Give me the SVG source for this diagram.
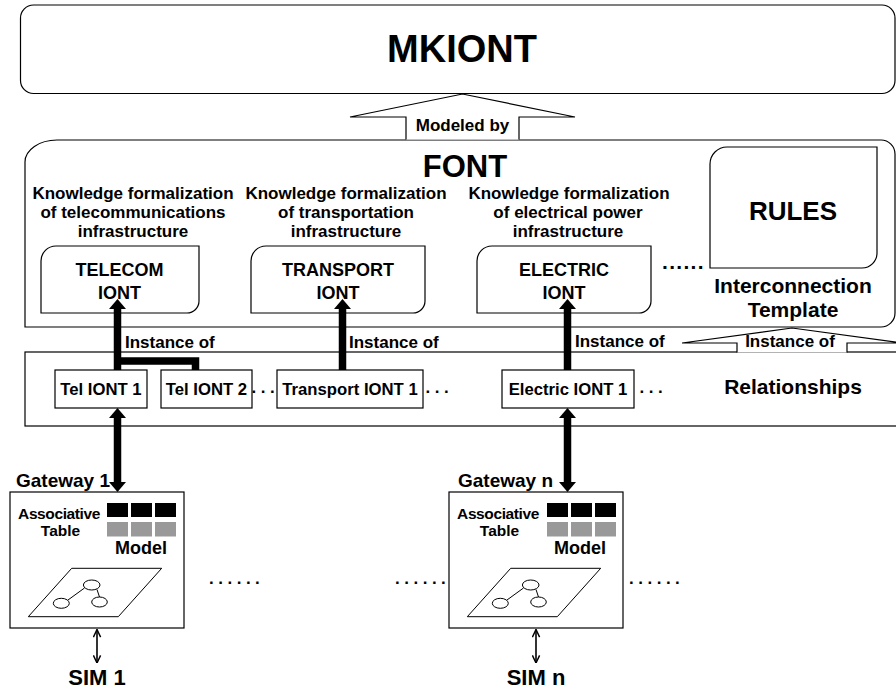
<svg xmlns="http://www.w3.org/2000/svg" width="896" height="691" viewBox="0 0 896 691">
<defs>
<style>
text{font-family:"Liberation Sans",Arial,Helvetica,sans-serif;font-weight:bold;fill:#000}
.c{text-anchor:middle}
.box{fill:#fff;stroke:#000;stroke-width:1.2}
.thin{fill:none;stroke:#000;stroke-width:1}
.thick{fill:none;stroke:#000;stroke-width:7.5;stroke-linejoin:miter}
.hollow{fill:#fff;stroke:#000;stroke-width:1.2;stroke-linejoin:miter}
.blk{fill:#000}
.gry{fill:#999}
.hdr{font-size:17px}
.iont{font-size:18px}
.inst{font-size:17px}
.small{font-size:16.7px}
.dots{font-size:17px;letter-spacing:4.5px}
</style>
<marker id="head" viewBox="0 0 10 17" refX="0" refY="8.5" markerWidth="10" markerHeight="17" markerUnits="userSpaceOnUse" orient="auto-start-reverse">
<path d="M0,0 L10,8.5 L0,17 Z" fill="#000"/>
</marker>
<marker id="chev" viewBox="0 0 10 10" refX="9.5" refY="5" markerWidth="9" markerHeight="9" markerUnits="userSpaceOnUse" orient="auto-start-reverse">
<path d="M1,1 L9.5,5 L1,9" fill="none" stroke="#000" stroke-width="1.6"/>
</marker>
</defs>
<rect width="896" height="691" fill="#fff"/>

<g id="mkiont">
<rect class="box" x="20.5" y="5" width="874.5" height="88.5" rx="13" ry="13"/>
<text class="c" x="462" y="62" font-size="38">MKIONT</text>
</g>

<g id="font">
<path class="box" d="M25,327 V162 A32,22 0 0 1 57,140 H881 A14,14 0 0 1 895,154 V313 A14,14 0 0 1 881,327 Z"/>
<text class="c" x="465" y="177" font-size="31">FONT</text>
<text class="c hdr" x="133" y="199">Knowledge formalization</text>
<text class="c hdr" x="133" y="218">of telecommunications</text>
<text class="c hdr" x="133" y="237">infrastructure</text>
<text class="c hdr" x="346" y="199">Knowledge formalization</text>
<text class="c hdr" x="346" y="218">of transportation</text>
<text class="c hdr" x="346" y="237">infrastructure</text>
<text class="c hdr" x="569" y="199">Knowledge formalization</text>
<text class="c hdr" x="568" y="218">of electrical power</text>
<text class="c hdr" x="568" y="237">infrastructure</text>
<text x="662" y="269" font-size="21" letter-spacing="1.3">......</text>
<text class="c" x="793" y="293" font-size="21">Interconnection</text>
<text class="c" x="793" y="317" font-size="21">Template</text>
</g>

<g id="telecom-iont">
<path class="box" d="M41,313 V261 A15,15 0 0 1 56,246 H199 V301 A12,12 0 0 1 187,313 Z"/>
<text class="c iont" x="119.5" y="276">TELECOM</text>
<text class="c iont" x="119.5" y="298.5">IONT</text>
</g>

<g id="transport-iont">
<path class="box" d="M251,313 V261 A15,15 0 0 1 266,246 H425 V301 A12,12 0 0 1 413,313 Z"/>
<text class="c iont" x="338" y="276">TRANSPORT</text>
<text class="c iont" x="338" y="298.5">IONT</text>
</g>

<g id="electric-iont">
<path class="box" d="M477,313 V261 A15,15 0 0 1 492,246 H651 V301 A12,12 0 0 1 639,313 Z"/>
<text class="c iont" x="564" y="276">ELECTRIC</text>
<text class="c iont" x="564" y="298.5">IONT</text>
</g>

<g id="rules">
<path class="box" d="M710,268 V164 A17,17 0 0 1 727,147 H877 V253 A15,15 0 0 1 862,268 Z"/>
<text class="c" x="793" y="220" font-size="26">RULES</text>
</g>

<g id="relationships">
<rect class="box" x="25" y="352" width="880" height="74"/>
<text class="c" x="793" y="394" font-size="21">Relationships</text>
<text class="dots" x="251.5" y="393">...</text>
<text class="dots" x="425.5" y="393">...</text>
<text class="dots" x="639.5" y="393">...</text>
</g>

<g id="tel-iont-1">
<rect class="box" x="55" y="370" width="92" height="38"/>
<text class="c small" x="101" y="395">Tel IONT 1</text>
</g>

<g id="tel-iont-2">
<rect class="box" x="161" y="370" width="91" height="38"/>
<text class="c small" x="206.5" y="395">Tel IONT 2</text>
</g>

<g id="transport-iont-1">
<rect class="box" x="277" y="370" width="146" height="38"/>
<text class="c small" x="350" y="395">Transport IONT 1</text>
</g>

<g id="electric-iont-1">
<rect class="box" x="502" y="370" width="132" height="38"/>
<text class="c small" x="568" y="395">Electric IONT 1</text>
</g>

<g id="gateway-1">
<text x="16" y="487" font-size="19">Gateway 1</text>
<rect class="box" x="10" y="492" width="174" height="136"/>
<text class="c" x="59" y="519" font-size="15.5" letter-spacing="-0.4">Associative</text>
<text class="c" x="60.5" y="535.7" font-size="15.5">Table</text>
<rect class="blk" x="107" y="503" width="21" height="14"/>
<rect class="blk" x="131" y="503" width="21" height="14"/>
<rect class="blk" x="155" y="503" width="21" height="14"/>
<rect class="gry" x="107" y="522" width="21" height="14.5"/>
<rect class="gry" x="131" y="522" width="21" height="14.5"/>
<rect class="gry" x="155" y="522" width="21" height="14.5"/>
<text class="c" x="141" y="554" font-size="18">Model</text>
<polygon class="thin" points="28.3,616.7 118.3,616.7 161.7,568.3 71.7,568.3"/>
<ellipse class="thin" cx="91.7" cy="585" rx="8.3" ry="5"/>
<ellipse class="thin" cx="61.3" cy="603.3" rx="8" ry="5"/>
<ellipse class="thin" cx="99.5" cy="602" rx="7.8" ry="5"/>
<line class="thin" x1="68" y1="600" x2="84.5" y2="588"/>
<line class="thin" x1="97" y1="589.5" x2="99.5" y2="597"/>
<text class="dots" x="209" y="584">......</text>
</g>

<g id="gateway-n">
<text x="458" y="487" font-size="19">Gateway n</text>
<rect class="box" x="449" y="492" width="174" height="136"/>
<text class="c" x="498" y="519" font-size="15.5" letter-spacing="-0.4">Associative</text>
<text class="c" x="499.5" y="535.7" font-size="15.5">Table</text>
<rect class="blk" x="547" y="503" width="21" height="14"/>
<rect class="blk" x="571" y="503" width="21" height="14"/>
<rect class="blk" x="595" y="503" width="21" height="14"/>
<rect class="gry" x="547" y="522" width="21" height="14.5"/>
<rect class="gry" x="571" y="522" width="21" height="14.5"/>
<rect class="gry" x="595" y="522" width="21" height="14.5"/>
<text class="c" x="580" y="554" font-size="18">Model</text>
<polygon class="thin" points="467.3,616.7 557.3,616.7 600.7,568.3 510.7,568.3"/>
<ellipse class="thin" cx="530.7" cy="585" rx="8.3" ry="5"/>
<ellipse class="thin" cx="500.3" cy="603.3" rx="8" ry="5"/>
<ellipse class="thin" cx="538.5" cy="602" rx="7.8" ry="5"/>
<line class="thin" x1="507" y1="600" x2="523.5" y2="588"/>
<line class="thin" x1="536" y1="589.5" x2="538.5" y2="597"/>
<text class="dots" x="395" y="584">......</text>
<text class="dots" x="629" y="584">......</text>
</g>

<g id="sim-1">
<text class="c" x="97" y="685" font-size="22">SIM 1</text>
</g>
<g id="sim-n">
<text class="c" x="536" y="685" font-size="22">SIM n</text>
</g>

<g id="connectors">
<polyline class="hollow" points="406,139.4 406,117 350,117 462.5,94 575,117 519,117 519,139.4"/>
<text class="c" x="462.5" y="131" font-size="17">Modeled by</text>

<line class="thick" x1="117.5" y1="370" x2="117.5" y2="309" marker-end="url(#head)"/>
<path class="thick" d="M117.5,361 H195.5 V370"/>
<line class="thick" x1="342.5" y1="370" x2="342.5" y2="309" marker-end="url(#head)"/>
<line class="thick" x1="567.5" y1="370" x2="567.5" y2="309" marker-end="url(#head)"/>

<text class="inst" x="125" y="347.7">Instance of</text>
<text class="inst" x="349" y="347.7">Instance of</text>
<text class="inst" x="575" y="347.3">Instance of</text>

<polyline class="hollow" points="737,352.4 737,343 682,343 792,328 902,343 847,343 847,352.4"/>
<text class="c inst" x="790" y="347.3">Instance of</text>

<line class="thick" x1="117.5" y1="418" x2="117.5" y2="482" marker-start="url(#head)" marker-end="url(#head)"/>
<line class="thick" x1="567.5" y1="418" x2="567.5" y2="482" marker-start="url(#head)" marker-end="url(#head)"/>

<line x1="97" y1="629.5" x2="97" y2="663" stroke="#000" stroke-width="1.6" marker-start="url(#chev)" marker-end="url(#chev)"/>
<line x1="536" y1="629.5" x2="536" y2="663" stroke="#000" stroke-width="1.6" marker-start="url(#chev)" marker-end="url(#chev)"/>
</g>
</svg>
